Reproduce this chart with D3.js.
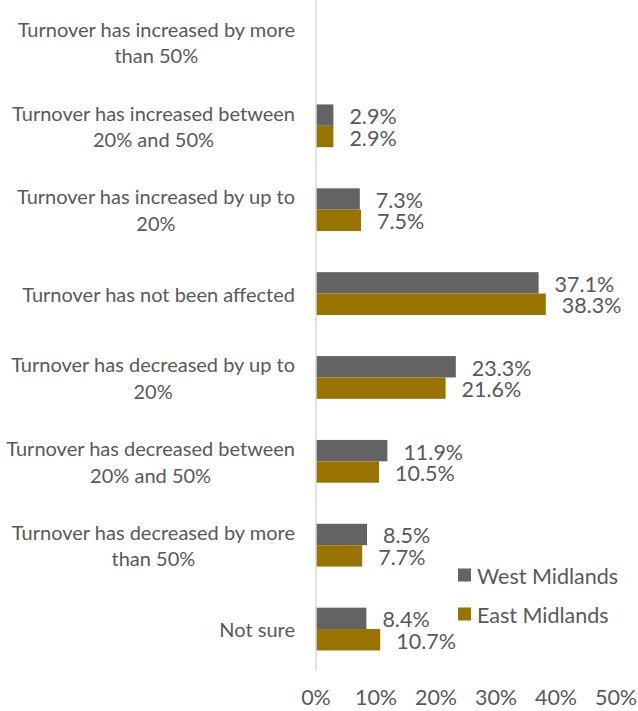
<!DOCTYPE html>
<html>
<head>
<meta charset="utf-8">
<script src="https://cdn.jsdelivr.net/npm/d3@7"></script>
<style>
  body { margin: 0; background: #fff; }
  svg { display: block; font-family: Lato, "Open Sans", sans-serif; }
</style>
</head>
<body>
<div id="chart"></div>
<script>
// category labels (line breaks as in the original)
var categories = [
    'Turnover has increased by more\nthan 50%',
    'Turnover has increased between\n20% and 50%',
    'Turnover has increased by up to\n20%',
    'Turnover has not been affected',
    'Turnover has decreased by up to\n20%',
    'Turnover has decreased between\n20% and 50%',
    'Turnover has decreased by more\nthan 50%',
    'Not sure'
];

var series = ['West Midlands', 'East Midlands'];

// percentages, null = no bar
var westMidlands = [null, 2.9, 7.3, 37.1, 23.3, 11.9, 8.5, 8.4];
var eastMidlands = [null, 2.9, 7.5, 38.3, 21.6, 10.5, 7.7, 10.7];

var ticks = [0, 10, 20, 30, 40, 50];

var colors = ['#636363', '#997300'];
var textColor = '#595959';

var width = 638, height = 711;
var axisX = 316;

var svg = d3.select('#chart').append('svg')
    .attr('width', width)
    .attr('height', height);

var x = d3.scaleLinear().domain([0, 50]).range([axisX, axisX + 300]);

var y = d3.scaleBand()
    .domain(d3.range(categories.length))
    .range([0, 671])
    .paddingInner(0.49)
    .paddingOuter(0.245);

var ySub = d3.scaleBand()
    .domain(d3.range(series.length))
    .range([0, y.bandwidth()]);

var values = [westMidlands, eastMidlands];

// bars
series.forEach(function(name, s){
    var g = svg.append('g').attr('fill', colors[s]);
    var data = values[s].map(function(v, i){ return {i: i, v: v}; })
        .filter(function(d){ return d.v != null; });

    g.selectAll('rect')
        .data(data)
        .enter().append('rect')
            .attr('x', x(0))
            .attr('y', function(d){ return y(d.i) + ySub(s); })
            .attr('width', function(d){ return x(d.v) - x(0); })
            .attr('height', ySub.bandwidth());

    // value labels
    svg.append('g')
        .attr('fill', textColor)
        .attr('font-size', '21.5px')
        .selectAll('text')
        .data(data)
        .enter().append('text')
            .attr('x', function(d){ return x(d.v) + 16; })
            .attr('y', function(d){ return y(d.i) + ySub(s) + ySub.bandwidth() / 2 + 1; })
            .attr('dominant-baseline', 'central')
            .text(function(d){ return d.v.toFixed(1) + '%'; });
});

// vertical axis line
svg.append('line')
    .attr('x1', axisX).attr('x2', axisX)
    .attr('y1', 0).attr('y2', 671)
    .attr('stroke', '#d9d9d9')
    .attr('stroke-width', 1.5);

// category labels: block right-aligned, lines centered within block
var rightEdge = 295, lineH = 26.5;
categories.forEach(function(label, i){
    var lines = label.split('\n');
    var cy = y(i) + y.bandwidth() / 2;
    var g = svg.append('g').attr('fill', textColor).attr('font-size', '20px');
    var texts = lines.map(function(line, k){
        return g.append('text')
            .attr('y', cy + (k - (lines.length - 1) / 2) * lineH)
            .attr('dominant-baseline', 'central')
            .attr('text-anchor', 'middle')
            .text(line);
    });
    var maxW = d3.max(texts, function(t){ return t.node().getComputedTextLength(); });
    texts.forEach(function(t){ t.attr('x', rightEdge - maxW / 2); });
});

// x tick labels
svg.append('g')
    .attr('fill', textColor)
    .attr('font-size', '21.5px')
    .attr('text-anchor', 'middle')
    .selectAll('text')
    .data(ticks)
    .enter().append('text')
        .attr('x', function(d){ return x(d); })
        .attr('y', 697)
        .attr('dominant-baseline', 'central')
        .text(function(d){ return d + '%'; });

// legend
var legend = svg.append('g')
    .selectAll('g')
    .data(series)
    .enter().append('g')
        .attr('transform', function(d, i){ return 'translate(458,' + (575 + i * 39) + ')'; });

legend.append('rect')
    .attr('x', 0).attr('y', -6.5)
    .attr('width', 13).attr('height', 13)
    .attr('fill', function(d, i){ return colors[i]; });

legend.append('text')
    .attr('x', 19)
    .attr('y', 1)
    .attr('dominant-baseline', 'central')
    .attr('fill', textColor)
    .attr('font-size', '21.5px')
    .text(function(d){ return d; });
</script>
</body>
</html>
